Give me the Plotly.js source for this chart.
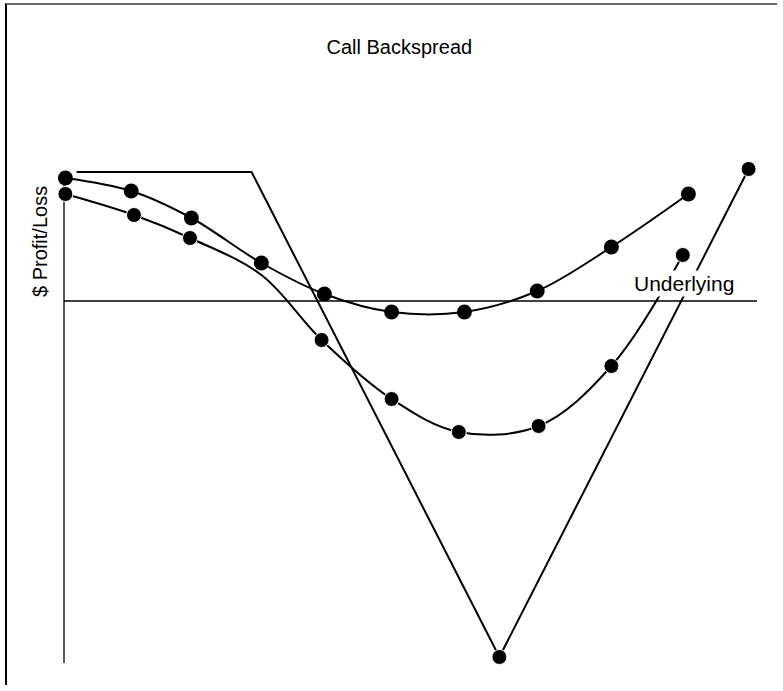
<!DOCTYPE html>
<html>
<head>
<meta charset="utf-8">
<script src="https://cdn.plot.ly/plotly-3.0.1.min.js"></script>
<style>
  html, body { margin: 0; padding: 0; background: #fff; overflow: hidden; }
  #wrap { position: relative; width: 783px; height: 691px; overflow: hidden; }
  #chart { position: absolute; left: 0; top: 0; width: 783px; height: 691px; }
  #frame { position: absolute; left: 5px; top: 3px; width: 770px; height: 680px;
           border-top: 2px solid #666; border-left: 2px solid #000; pointer-events: none; }
</style>
</head>
<body>
<div id="wrap">
  <div id="chart"></div>
  <div id="frame"></div>
</div>
<script>
// Underlying price (arbitrary units) and profit/loss (arbitrary $ units)
const upperX = [20.1, 24.8, 29.1, 34.1, 38.6, 43.4, 48.6, 53.8, 59.1, 64.6];
const upperY = [12.3, 11.0, 8.3, 3.8, 0.7, -1.1, -1.1, 1.0, 5.4, 10.7];

const lowerX = [20.1, 25.0, 29.0, 34.1, 38.4, 43.4, 48.2, 53.9, 59.1, 64.2];
const lowerY = [10.7, 8.6, 6.3, 2.6, -3.9, -9.8, -13.1, -12.5, -6.5, 4.6];
const lowerMarked = [true, true, true, false, true, true, true, true, true, true];

const expiryX = [20.9, 33.4, 51.1, 68.9];
const expiryY = [12.9, 12.9, -35.6, 13.2];
const expiryMarked = [false, false, true, true];

const titleText = "Call Backspread";
const yLabel = "$ Profit/Loss";
const underlyingLabel = "Underlying";

const FONT = "Liberation Sans, Arial, Helvetica, sans-serif";
const MS = 15;

const traces = [
  {
    x: upperX, y: upperY, type: "scatter", mode: "lines+markers",
    line: { color: "#000", width: 2, shape: "spline", smoothing: 1 },
    marker: { color: "#000", size: MS, opacity: 1 }, cliponaxis: false, hoverinfo: "skip"
  },
  {
    x: lowerX, y: lowerY, type: "scatter", mode: "lines+markers",
    line: { color: "#000", width: 2, shape: "spline", smoothing: 1 },
    marker: { color: "#000", opacity: 1, size: lowerMarked.map(m => m ? MS : 0) },
    cliponaxis: false, hoverinfo: "skip"
  },
  {
    x: expiryX, y: expiryY, type: "scatter", mode: "lines+markers",
    line: { color: "#000", width: 2 },
    marker: { color: "#000", opacity: 1, size: expiryMarked.map(m => m ? MS : 0) },
    cliponaxis: false, hoverinfo: "skip"
  }
];

const layout = {
  width: 783, height: 691,
  margin: { l: 64, r: 26, t: 141, b: 20 },
  paper_bgcolor: "#fff", plot_bgcolor: "rgba(0,0,0,0)",
  showlegend: false,
  font: { family: FONT, color: "#000", size: 20 },
  title: {
    text: titleText, font: { family: FONT, size: 20, color: "#000" },
    xref: "container", x: 0.51, xanchor: "center",
    yref: "container", y: 0.932, yanchor: "middle"
  },
  xaxis: {
    range: [20, 69.5], showgrid: false, zeroline: false, showline: false,
    showticklabels: false, ticks: ""
  },
  yaxis: {
    range: [-37, 16], showgrid: false, showline: false, zeroline: false,
    showticklabels: false, ticks: ""
  },
  shapes: [
    { type: "line", xref: "paper", x0: 0, x1: 0, yref: "y", y0: -36.2, y1: 12,
      line: { color: "#222", width: 1.5 }, layer: "below" },
    { type: "line", xref: "paper", x0: 0, x1: 1, yref: "y", y0: 0, y1: 0,
      line: { color: "#000", width: 1.5 }, layer: "below" }
  ],
  annotations: [
    { text: yLabel, textangle: -90, xref: "paper", x: 0, xshift: -24, xanchor: "center",
      yref: "y", y: 5.9, yanchor: "middle", showarrow: false,
      font: { family: FONT, size: 20, color: "#000" } },
    { text: underlyingLabel, xref: "x", x: 64.3, yref: "y", y: 1.8,
      xanchor: "center", yanchor: "middle", showarrow: false,
      bgcolor: "#fff", borderpad: 1,
      font: { family: FONT, size: 21, color: "#000" } }
  ]
};

Plotly.newPlot("chart", traces, layout, { staticPlot: true, displayModeBar: false });
</script>
</body>
</html>
